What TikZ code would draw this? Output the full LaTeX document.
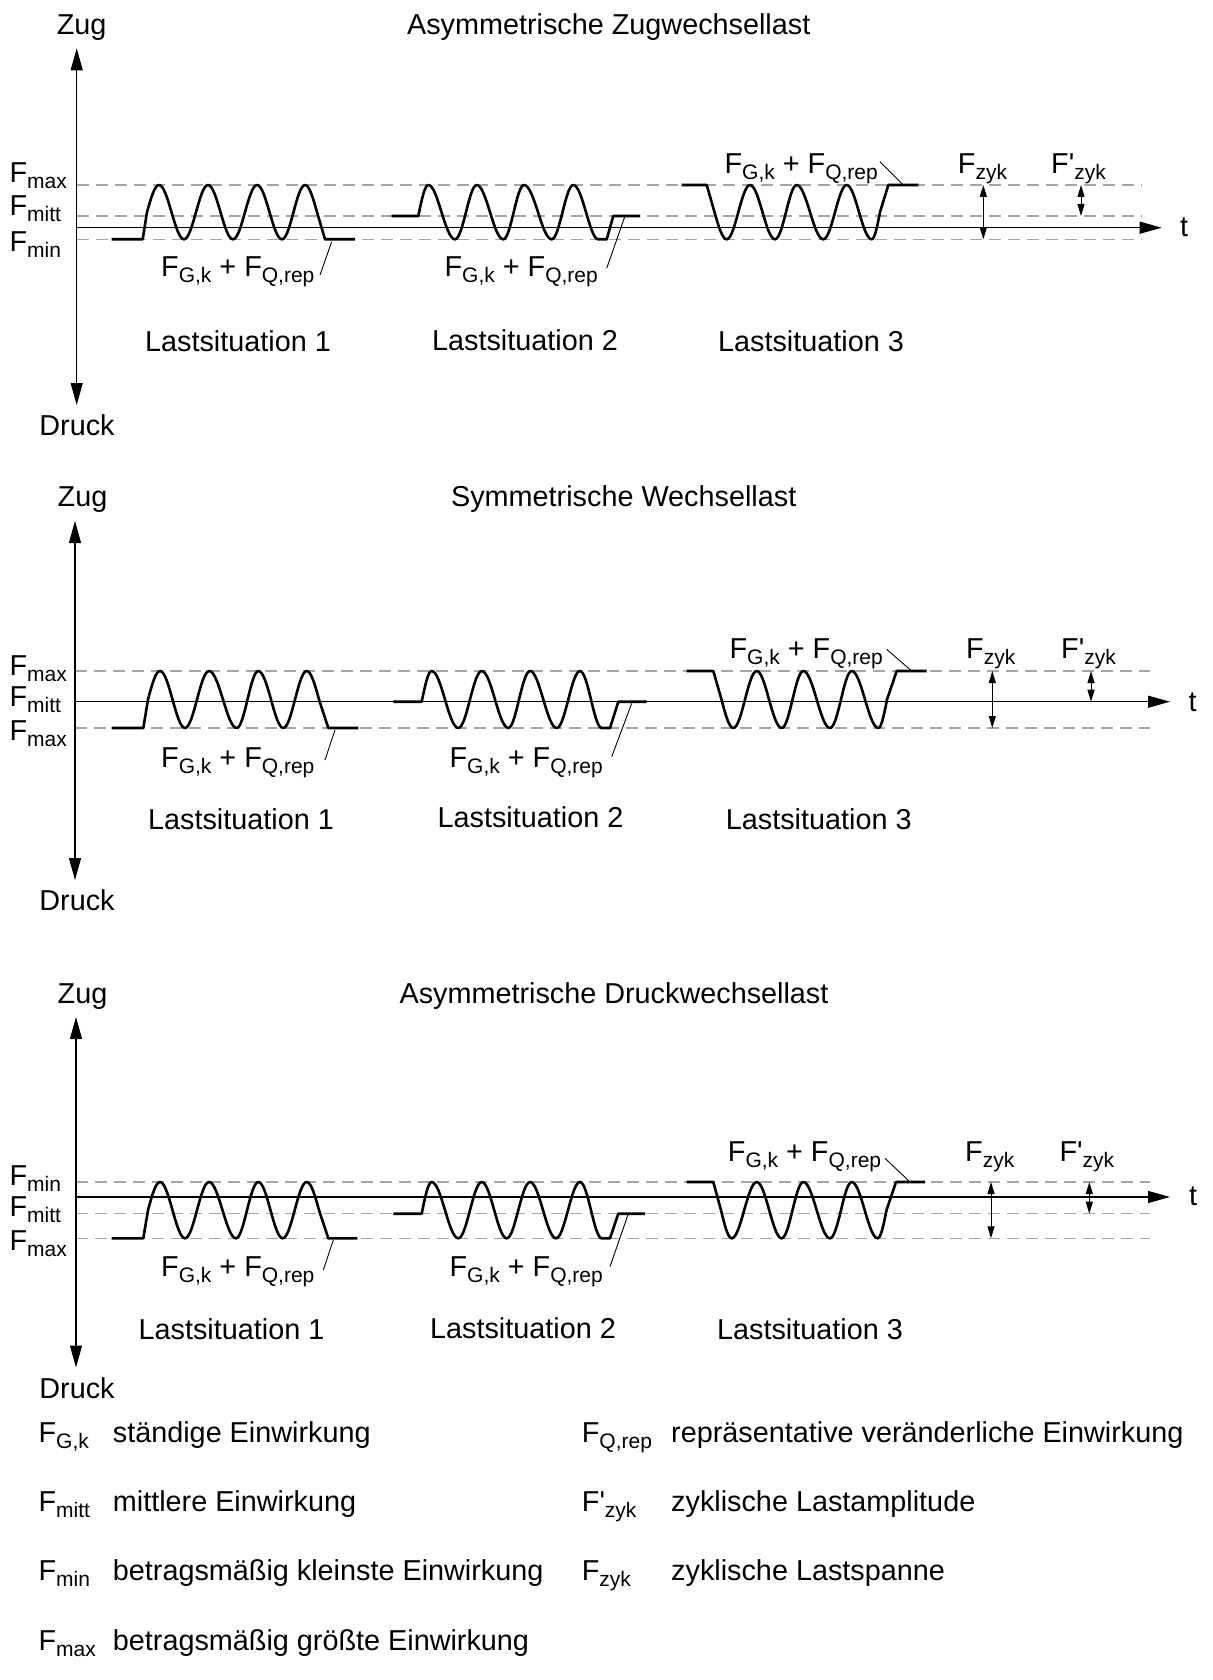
\documentclass[tikz,border=0pt]{standalone}
\usepackage{fontspec}
\setmainfont{Liberation Sans}
\usetikzlibrary{arrows.meta}
\definecolor{dgray}{RGB}{165,165,165}
\newcommand{\sbs}[1]{\raisebox{-6pt}{\fontsize{21}{21}\selectfont #1}}
\newcommand{\FF}[1]{F\sbs{#1}}
\newcommand{\Fsum}{\FF{G,k} + \FF{Q,rep}}
\newcommand{\Fp}{F\textquotesingle\sbs{zyk}}
\begin{document}
\begin{tikzpicture}[x=1pt,y=-1pt,
  txt/.style={font=\fontsize{28.8}{34}\selectfont, inner sep=0pt},
  axis/.style={line width=1.2pt},
  bigarrow/.style={-{Triangle[length=22pt,width=12pt]}},
  bigarrows/.style={{Triangle[length=22pt,width=12pt]}-{Triangle[length=22pt,width=12pt]}},
  dashline/.style={line width=1.2pt, draw=dgray, dash pattern=on 12pt off 7pt},
  wave/.style={line width=2.6pt, line join=round},
  leader/.style={line width=0.9pt},
  dim/.style={line width=1pt, {Triangle[length=12pt,width=7pt]}-{Triangle[length=12pt,width=7pt]}}]
\useasboundingbox (0,0) rectangle (1212,1680);

%%%%%%%%%%%%%%%% Panel 1
\draw[dashline] (76.7,185) -- (1141.7,185);
\draw[dashline] (76.7,216) -- (1141.7,216);
\draw[dashline] (76.7,239.3) -- (1141.7,239.3);
\coordinate (a1o) at (76.7,227.7);
\coordinate (a1u) at (76.7,48.3);
\coordinate (a1d) at (76.7,405);
\coordinate (a1t) at (1161.7,227.7);
\draw[axis,bigarrows] (a1d) -- (a1u);
\draw[axis,bigarrow] (a1o) -- (a1t);
\node[txt,anchor=base] (z1) at (81.7,35) {Zug};
\node[txt,anchor=base] (h1) at (608.7,35) {Asymmetrische Zugwechsellast};
\node[txt,anchor=base] (d1) at (77,435.5) {Druck};
\node[txt,anchor=base west] (f1a) at (9.4,182.7) {\FF{max}};
\node[txt,anchor=base west] (f1b) at (9.4,216) {\FF{mitt}};
\node[txt,anchor=base west] (f1c) at (9.4,251.7) {\FF{min}};
\node[txt,anchor=base] (t1) at (1184,236.7) {t};
\node[txt,anchor=base] (ls11) at (238,351) {Lastsituation 1};
\node[txt,anchor=base] (ls12) at (525,350) {Lastsituation 2};
\node[txt,anchor=base] (ls13) at (811,351) {Lastsituation 3};
\draw[wave] (111.7,239.3) -- (142.7,239.3) -- (147,212.15) sin (159,185) cos (171.5,212.15) sin (184,239.3) cos (196,212.15) sin (208,185) cos (220.5,212.15) sin (233,239.3) cos (245,212.15) sin (257,185) cos (269.5,212.15) sin (282,239.3) cos (293.5,212.15) sin (305,185) cos (317,212.15) -- (325,239.3) -- (355,239.3);
\draw[wave] (391.7,216) -- (418.3,216) sin (428.3,185) cos (441.5,212.15) sin (455,239.3) cos (466,212.15) sin (476.7,185) cos (490,212.15) sin (503.3,239.3) cos (513.7,212.15) sin (524,185) cos (538,212.15) sin (551.7,239.3) cos (562.5,212.15) sin (573.3,185) cos (586,212.15) sin (598.3,239.3) -- (606.7,239.3) -- (613.3,216) -- (640,216);
\draw[wave] (681.7,185) -- (706.7,185) -- (714.5,212.15) sin (726.7,239.3) cos (738.3,212.15) sin (750,185) cos (762.5,212.15) sin (775,239.3) cos (786,212.15) sin (796.7,185) cos (810,212.15) sin (823.3,239.3) cos (835,212.15) sin (846.7,185) cos (859,212.15) sin (871.7,239.3) cos (880,212.15) -- (888.3,185) -- (918.3,185);
\node[txt,anchor=base west] (l11) at (161,276.7) {\Fsum};
\node[txt,anchor=base west] (l12) at (444.4,276.7) {\Fsum};
\node[txt,anchor=base west] (l13) at (724.4,173.3) {\Fsum};
\node[txt,anchor=base west] (fz1) at (957.7,173.3) {\FF{zyk}};
\node[txt,anchor=base west] (fp1) at (1051,173.3) {\Fp};
\coordinate (c11) at (331.7,241.7); \coordinate (e11) at (320,275);
\coordinate (c12) at (625,216);   \coordinate (e12) at (606.7,268.3);
\coordinate (c13) at (903.3,185); \coordinate (e13) at (880,161.7);
\draw[leader] (c11) -- (e11);
\draw[leader] (c12) -- (e12);
\draw[leader] (c13) -- (e13);
\coordinate (k1a) at (983.3,185); \coordinate (k1b) at (983.3,239.3);
\coordinate (k1c) at (1081,185);  \coordinate (k1d) at (1081,216);
\draw[dim] (k1a) -- (k1b);
\draw[dim] (k1c) -- (k1d);

%%%%%%%%%%%%%%%% Panel 2
\draw[dashline] (75,671) -- (1150,671);
\draw[dashline] (75,728) -- (1150,728);
\coordinate (a2o) at (75,701.7);
\coordinate (a2u) at (75,521);
\coordinate (a2d) at (75,880);
\coordinate (a2t) at (1170,701.7);
\draw[axis,bigarrows] (a2d) -- (a2u);
\draw[axis,bigarrow] (a2o) -- (a2t);
\node[txt,anchor=base] (z2) at (82.5,506.3) {Zug};
\node[txt,anchor=base] (h2) at (623.7,506.3) {Symmetrische Wechsellast};
\node[txt,anchor=base] (d2) at (77,910.3) {Druck};
\node[txt,anchor=base west] (f2a) at (9.4,675) {\FF{max}};
\node[txt,anchor=base west] (f2b) at (9.4,706) {\FF{mitt}};
\node[txt,anchor=base west] (f2c) at (9.4,740) {\FF{max}};
\node[txt,anchor=base] (t2) at (1192.5,711.7) {t};
\node[txt,anchor=base] (ls21) at (241,829) {Lastsituation 1};
\node[txt,anchor=base] (ls22) at (530.5,827) {Lastsituation 2};
\node[txt,anchor=base] (ls23) at (818.7,829) {Lastsituation 3};
\draw[wave] (111.7,728) -- (143.3,728) -- (148,699.5) sin (160,671) cos (172.5,699.5) sin (185,728) cos (197,699.5) sin (209,671) cos (223,699.5) sin (236.7,728) cos (247.5,699.5) sin (258.3,671) cos (271,699.5) sin (283.3,728) cos (295,699.5) sin (306.7,671) cos (319,699.5) -- (328.3,728) -- (358.3,728);
\draw[wave] (393.3,701.7) -- (421.7,701.7) sin (431.7,671) cos (445,699.5) sin (458.3,728) cos (470,699.5) sin (481.7,671) cos (495,699.5) sin (508.3,728) cos (519,699.5) sin (530,671) cos (543.3,699.5) sin (556.7,728) cos (568.3,699.5) sin (580,671) cos (591,699.5) sin (601.7,728) -- (610,728) -- (618.3,701.7) -- (646.7,701.7);
\draw[wave] (686.7,671) -- (713.3,671) -- (721.5,699.5) sin (733.3,728) cos (745,699.5) sin (756.7,671) cos (769,699.5) sin (781.7,728) cos (792.5,699.5) sin (803.3,671) cos (816.7,699.5) sin (830,728) cos (841,699.5) sin (851.7,671) cos (865,699.5) sin (878.3,728) cos (887,699.5) -- (896.7,671) -- (926.7,671);
\node[txt,anchor=base west] (l21) at (161,767) {\Fsum};
\node[txt,anchor=base west] (l22) at (449.4,767) {\Fsum};
\node[txt,anchor=base west] (l23) at (729.4,658.3) {\Fsum};
\node[txt,anchor=base west] (fz2) at (966,658.3) {\FF{zyk}};
\node[txt,anchor=base west] (fp2) at (1061,658.3) {\Fp};
\coordinate (c21) at (335,730);   \coordinate (e21) at (325,760);
\coordinate (c22) at (631.7,703.3); \coordinate (e22) at (611.7,756.7);
\coordinate (c23) at (911.7,671); \coordinate (e23) at (886.7,649.3);
\draw[leader] (c21) -- (e21);
\draw[leader] (c22) -- (e22);
\draw[leader] (c23) -- (e23);
\coordinate (k2a) at (992.3,671); \coordinate (k2b) at (992.3,728);
\coordinate (k2c) at (1091,671);  \coordinate (k2d) at (1091,701.7);
\draw[dim] (k2a) -- (k2b);
\draw[dim] (k2c) -- (k2d);

%%%%%%%%%%%%%%%% Panel 3
\draw[dashline] (76,1182) -- (1150,1182);
\draw[dashline] (76,1213.7) -- (1150,1213.7);
\draw[dashline] (76,1238.3) -- (1150,1238.3);
\coordinate (a3o) at (76,1197);
\coordinate (a3u) at (76,1017);
\coordinate (a3d) at (76,1367.5);
\coordinate (a3t) at (1170,1197);
\draw[axis,bigarrows] (a3d) -- (a3u);
\draw[axis,bigarrow] (a3o) -- (a3t);
\node[txt,anchor=base] (z3) at (82.5,1003.7) {Zug};
\node[txt,anchor=base] (h3) at (614,1003.7) {Asymmetrische Druckwechsellast};
\node[txt,anchor=base] (d3) at (77,1398) {Druck};
\node[txt,anchor=base west] (f3a) at (9.4,1185) {\FF{min}};
\node[txt,anchor=base west] (f3b) at (9.4,1216.7) {\FF{mitt}};
\node[txt,anchor=base west] (f3c) at (9.4,1250) {\FF{max}};
\node[txt,anchor=base] (t3) at (1193,1205) {t};
\node[txt,anchor=base] (ls31) at (231.5,1339) {Lastsituation 1};
\node[txt,anchor=base] (ls32) at (523,1338) {Lastsituation 2};
\node[txt,anchor=base] (ls33) at (810,1339) {Lastsituation 3};
\draw[wave] (111.7,1238.3) -- (143.3,1238.3) -- (148,1210.15) sin (160,1182) cos (172.5,1210.15) sin (185,1238.3) cos (197,1210.15) sin (209,1182) cos (222.5,1210.15) sin (236,1238.3) cos (247,1210.15) sin (258.3,1182) cos (270.5,1210.15) sin (282.7,1238.3) cos (294.7,1210.15) sin (306.7,1182) cos (319,1210.15) -- (328.3,1238.3) -- (357.3,1238.3);
\draw[wave] (393.3,1213.7) -- (421.7,1213.7) sin (431.7,1182) cos (445,1210.15) sin (458.3,1238.3) cos (470,1210.15) sin (481.7,1182) cos (494.2,1210.15) sin (506.7,1238.3) cos (518.3,1210.15) sin (530,1182) cos (543,1210.15) sin (556,1238.3) cos (568,1210.15) sin (580,1182) cos (591,1210.15) sin (601.7,1238.3) -- (610,1238.3) -- (618.3,1213.7) -- (645,1213.7);
\draw[wave] (686.7,1182) -- (713.3,1182) -- (721,1210.15) sin (731.7,1238.3) cos (744.2,1210.15) sin (756.7,1182) cos (769.2,1210.15) sin (781.7,1238.3) cos (792.5,1210.15) sin (803.3,1182) cos (816.7,1210.15) sin (830,1238.3) cos (841,1210.15) sin (851.7,1182) cos (864.7,1210.15) sin (877.7,1238.3) cos (886.5,1210.15) -- (896,1182) -- (925,1182);
\node[txt,anchor=base west] (l31) at (161,1276) {\Fsum};
\node[txt,anchor=base west] (l32) at (449.4,1276) {\Fsum};
\node[txt,anchor=base west] (l33) at (727.7,1161.7) {\Fsum};
\node[txt,anchor=base west] (fz3) at (965,1161.7) {\FF{zyk}};
\node[txt,anchor=base west] (fp3) at (1059.4,1161.7) {\Fp};
\coordinate (c31) at (333.3,1240); \coordinate (e31) at (323.3,1270);
\coordinate (c32) at (628.3,1213.7); \coordinate (e32) at (610,1266.7);
\coordinate (c33) at (910,1182); \coordinate (e33) at (885,1158.3);
\draw[leader] (c31) -- (e31);
\draw[leader] (c32) -- (e32);
\draw[leader] (c33) -- (e33);
\coordinate (k3a) at (991,1182); \coordinate (k3b) at (991,1238.3);
\coordinate (k3c) at (1089.3,1182);  \coordinate (k3d) at (1089.3,1213.7);
\draw[dim] (k3a) -- (k3b);
\draw[dim] (k3c) -- (k3d);

%%%%%%%%%%%%%%%% Legend
\node[txt,anchor=base west] (g1) at (38.4,1442) {\FF{G,k}};
\node[txt,anchor=base west] (g1t) at (112.7,1442) {ständige Einwirkung};
\node[txt,anchor=base west] (g2) at (38.4,1511) {\FF{mitt}};
\node[txt,anchor=base west] (g2t) at (112.7,1511) {mittlere Einwirkung};
\node[txt,anchor=base west] (g3) at (38.4,1580) {\FF{min}};
\node[txt,anchor=base west] (g3t) at (112.7,1580) {betragsmäßig kleinste Einwirkung};
\node[txt,anchor=base west] (g4) at (38.4,1650) {\FF{max}};
\node[txt,anchor=base west] (g4t) at (112.7,1650) {betragsmäßig größte Einwirkung};
\node[txt,anchor=base west] (r1) at (581.7,1442) {\FF{Q,rep}};
\node[txt,anchor=base west] (r1t) at (671,1442) {repräsentative veränderliche Einwirkung};
\node[txt,anchor=base west] (r2) at (581.7,1511) {\Fp};
\node[txt,anchor=base west] (r2t) at (671,1511) {zyklische Lastamplitude};
\node[txt,anchor=base west] (r3) at (581.7,1580) {\FF{zyk}};
\node[txt,anchor=base west] (r3t) at (671,1580) {zyklische Lastspanne};
\end{tikzpicture}
\end{document}
